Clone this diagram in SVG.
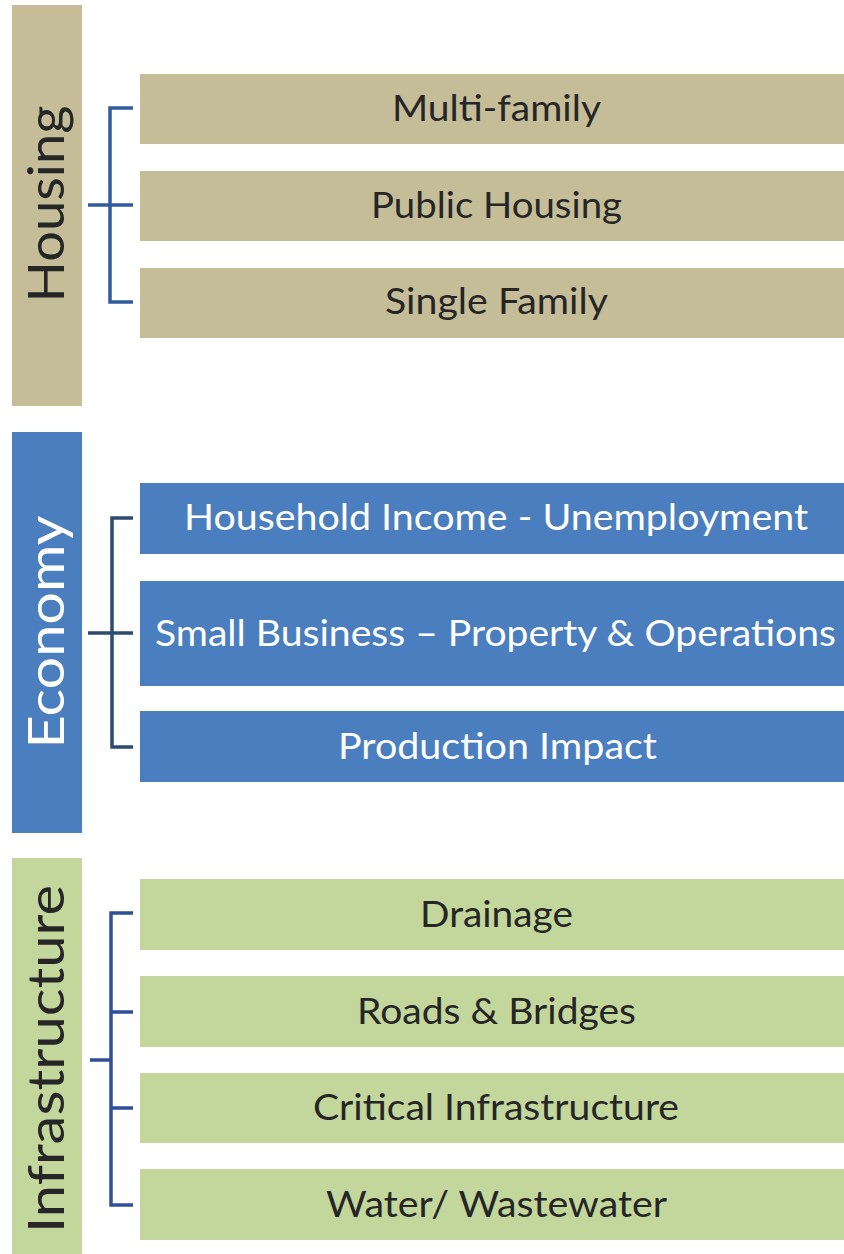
<svg xmlns="http://www.w3.org/2000/svg" width="844" height="1254" viewBox="0 0 844 1254">
<style>
.tan{fill:#c4bd97}
.blue{fill:#4a7ebe}
.green{fill:#c3d69b}
.lbl{font-family:Lato,"Open Sans","Liberation Sans",sans-serif;font-size:37px;text-anchor:middle}
.dark{fill:#262626}
.light{fill:#ffffff}
.side{font-family:Lato,"Open Sans","Liberation Sans",sans-serif;font-size:50px;text-anchor:middle}
.br{fill:none;stroke-width:3.5}
</style>
<rect width="844" height="1254" fill="#ffffff"/>
<g id="housing">
<rect class="tan" x="12" y="5" width="70" height="401"/>
<text class="side dark" transform="translate(64,204) rotate(-90)" textLength="197" lengthAdjust="spacingAndGlyphs">Housing</text>
</g>
<g id="multi-family">
<rect class="tan" x="140" y="74" width="704" height="70"/>
<text class="lbl dark" x="496.5" y="121" textLength="209" lengthAdjust="spacingAndGlyphs">Multi-family</text>
</g>
<g id="public-housing">
<rect class="tan" x="140" y="171" width="704" height="70"/>
<text class="lbl dark" x="496.5" y="218" textLength="251" lengthAdjust="spacingAndGlyphs">Public Housing</text>
</g>
<g id="single-family">
<rect class="tan" x="140" y="268" width="704" height="70"/>
<text class="lbl dark" x="496.5" y="314" textLength="223" lengthAdjust="spacingAndGlyphs">Single Family</text>
</g>
<g id="economy">
<rect class="blue" x="12" y="432" width="70" height="401"/>
<text class="side light" transform="translate(64,632) rotate(-90)" textLength="233" lengthAdjust="spacingAndGlyphs">Economy</text>
</g>
<g id="household-income">
<rect class="blue" x="140" y="483" width="704" height="71"/>
<text class="lbl light" x="496" y="530" textLength="624" lengthAdjust="spacingAndGlyphs">Household Income - Unemployment</text>
</g>
<g id="small-business">
<rect class="blue" x="140" y="581" width="704" height="105"/>
<text class="lbl light" x="495.5" y="646" textLength="681" lengthAdjust="spacingAndGlyphs">Small Business – Property &amp; Operations</text>
</g>
<g id="production-impact">
<rect class="blue" x="140" y="711" width="704" height="71"/>
<text class="lbl light" x="497.5" y="759" textLength="319" lengthAdjust="spacingAndGlyphs">Production Impact</text>
</g>
<g id="infrastructure">
<rect class="green" x="12" y="858" width="70" height="396"/>
<text class="side dark" transform="translate(64,1059) rotate(-90)" textLength="348" lengthAdjust="spacingAndGlyphs">Infrastructure</text>
</g>
<g id="drainage">
<rect class="green" x="140" y="879" width="704" height="71"/>
<text class="lbl dark" x="496.5" y="927" textLength="153" lengthAdjust="spacingAndGlyphs">Drainage</text>
</g>
<g id="roads-bridges">
<rect class="green" x="140" y="976" width="704" height="71"/>
<text class="lbl dark" x="496.5" y="1024" textLength="279" lengthAdjust="spacingAndGlyphs">Roads &amp; Bridges</text>
</g>
<g id="critical-infrastructure">
<rect class="green" x="140" y="1073" width="704" height="70"/>
<text class="lbl dark" x="496" y="1120" textLength="366" lengthAdjust="spacingAndGlyphs">Critical Infrastructure</text>
</g>
<g id="water-wastewater">
<rect class="green" x="140" y="1169" width="704" height="71"/>
<text class="lbl dark" x="496.5" y="1217" textLength="341" lengthAdjust="spacingAndGlyphs">Water/ Wastewater</text>
</g>
<g id="connectors">
<path class="br" stroke="#2f5c9e" d="M133 108H110V302H133M88 205H133"/>
<path class="br" stroke="#2b4b72" d="M133 518H112V747H133M88 633H133"/>
<path class="br" stroke="#2f4f96" d="M133 913H111V1205H133M111 1012H133M111 1108H133M90 1060H111"/>
</g>
</svg>
